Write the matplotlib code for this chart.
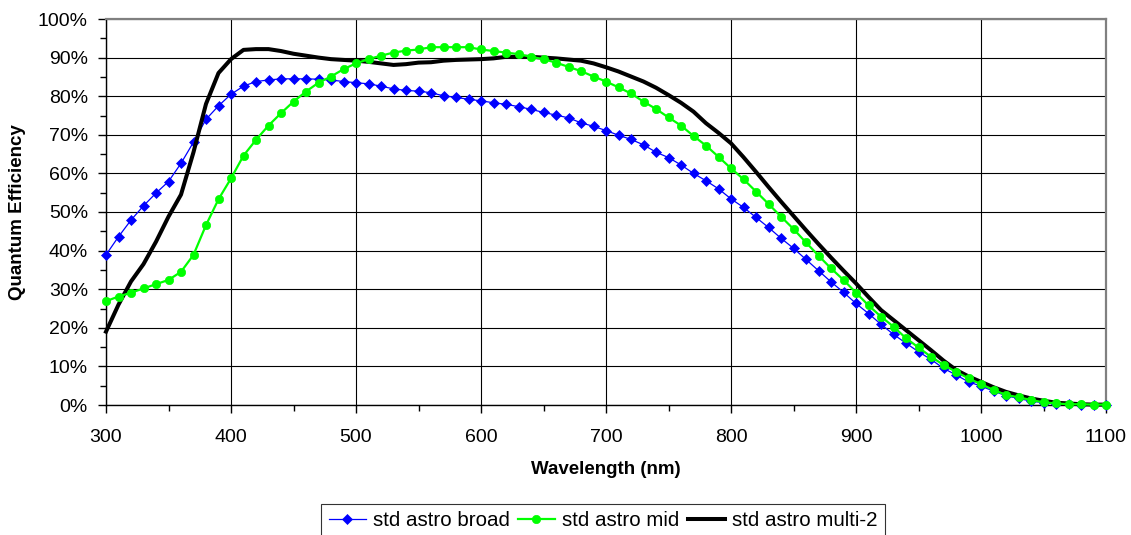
import matplotlib
matplotlib.use("Agg")
import matplotlib.pyplot as plt
from matplotlib.ticker import MultipleLocator, FuncFormatter

plt.rcParams['font.family'] = ['Liberation Sans', 'DejaVu Sans']

wavelength = list(range(300, 1101, 10))

broad = [38.9, 43.6, 47.9, 51.6, 54.9, 57.9, 62.6, 68.1, 74.0, 77.5,
         80.5, 82.6, 83.8, 84.2, 84.5, 84.5, 84.5, 84.4, 84.2, 83.8,
         83.5, 83.2, 82.6, 81.9, 81.5, 81.3, 80.9, 80.1, 79.7, 79.2,
         78.8, 78.3, 77.9, 77.3, 76.6, 75.8, 75.1, 74.4, 73.1, 72.2,
         71.1, 69.9, 68.8, 67.4, 65.5, 64.1, 62.2, 60.0, 58.1, 56.0,
         53.4, 51.2, 48.6, 46.0, 43.2, 40.6, 37.7, 34.8, 31.9, 29.2,
         26.3, 23.7, 20.9, 18.3, 16.0, 13.8, 11.8, 9.5, 7.8, 6.0,
         4.9, 3.6, 2.4, 1.7, 1.0, 0.6, 0.3, 0.2, 0.1, 0.05, 0.0]

mid = [26.9, 28.1, 29.1, 30.2, 31.3, 32.4, 34.5, 38.9, 46.6, 53.3,
       58.7, 64.6, 68.7, 72.4, 75.6, 78.6, 81.2, 83.5, 85.1, 87.0,
       88.5, 89.6, 90.5, 91.3, 91.8, 92.1, 92.7, 92.7, 92.7, 92.7,
       92.1, 91.7, 91.3, 90.9, 90.2, 89.6, 88.7, 87.6, 86.5, 85.1,
       83.8, 82.3, 80.7, 78.6, 76.7, 74.5, 72.4, 69.7, 67.2, 64.3,
       61.3, 58.5, 55.3, 52.1, 48.8, 45.6, 42.1, 38.7, 35.4, 32.4,
       29.1, 25.8, 22.9, 20.3, 17.3, 14.9, 12.5, 10.4, 8.6, 6.9,
       5.4, 3.9, 2.6, 2.0, 1.3, 0.7, 0.4, 0.2, 0.2, 0.1, 0.1]

multi2 = [19.0, 26.0, 32.0, 36.5, 42.3, 48.8, 54.5, 65.5, 78.0, 86.0,
          89.6, 92.0, 92.2, 92.2, 91.7, 91.0, 90.5, 90.0, 89.6, 89.4,
          89.2, 88.9, 88.5, 88.1, 88.3, 88.7, 88.8, 89.2, 89.4, 89.5,
          89.6, 89.8, 90.2, 90.2, 90.2, 90.0, 89.8, 89.5, 89.2, 88.5,
          87.5, 86.4, 85.1, 83.8, 82.2, 80.3, 78.3, 76.0, 73.0, 70.5,
          67.8, 64.2, 60.4, 56.5, 52.7, 49.0, 45.3, 41.7, 38.2, 34.8,
          31.5, 28.0, 24.6, 22.0, 19.4, 16.8, 14.2, 11.5, 9.1, 7.4,
          6.0, 4.6, 3.4, 2.5, 1.7, 1.1, 0.6, 0.4, 0.2, 0.1, 0.1]

series_names = ["std astro broad", "std astro mid", "std astro multi-2"]

W, H = 1131, 535
fig = plt.figure(figsize=(W / 100, H / 100), dpi=100)
ax = fig.add_axes([106 / W, 1 - 405 / H, 1000 / W, 386 / H])

ax.plot(wavelength, broad, color='#0000FF', lw=0.9, marker='D', ms=5,
        mec='#0000FF', mew=0.5, label=series_names[0], zorder=3, clip_on=False)
ax.plot(wavelength, multi2, color='black', lw=2.9, label=series_names[2],
        zorder=4, clip_on=False)
ax.plot(wavelength, mid, color='#00FF00', lw=1.6, marker='o', ms=6,
        mec='#00FF00', mew=0.5, label=series_names[1], zorder=5, clip_on=False)

ax.set_xlim(300, 1100)
ax.set_ylim(0, 100)
ax.xaxis.set_major_locator(MultipleLocator(100))
ax.xaxis.set_minor_locator(MultipleLocator(50))
ax.yaxis.set_major_locator(MultipleLocator(10))
ax.yaxis.set_minor_locator(MultipleLocator(5))
ax.yaxis.set_major_formatter(FuncFormatter(lambda v, p: f"{int(round(v))}%"))

ax.grid(True, which='major', color='black', lw=0.8)
ax.set_axisbelow(True)

for s in ['top', 'right']:
    ax.spines[s].set_color('#808080')
    ax.spines[s].set_linewidth(1.6)
for s in ['left', 'bottom']:
    ax.spines[s].set_color('black')
    ax.spines[s].set_linewidth(1.0)

ax.tick_params(axis='both', which='major', direction='out', length=6,
               width=1, labelsize=14, color='black')
ax.tick_params(axis='both', which='minor', direction='out', length=4,
               width=1, color='black')
ax.tick_params(axis='y', which='major', pad=7)
ax.tick_params(axis='x', which='major', pad=11)

fig.text(606 / W, 1 - 470 / H, "Wavelength (nm)", ha='center', va='center',
         fontsize=13.5, fontweight='bold')
fig.text(18 / W, 1 - 212 / H, "Quantum Efficiency", ha='center', va='center',
         rotation=90, fontsize=13.5, fontweight='bold')

handles, labels = ax.get_legend_handles_labels()
order = [0, 2, 1]
leg = fig.legend([handles[i] for i in order], [labels[i] for i in order],
                 loc='upper center', bbox_to_anchor=(603 / W, 1 - 504 / H),
                 ncol=3, frameon=True, fancybox=False, shadow=False,
                 fontsize=14.8, handlelength=1.8, handletextpad=0.35,
                 columnspacing=0.4, borderpad=0.35, numpoints=1,
                 borderaxespad=0)
leg.get_frame().set_edgecolor('black')
leg.get_frame().set_linewidth(0.8)

fig.savefig("out.png", dpi=100)
